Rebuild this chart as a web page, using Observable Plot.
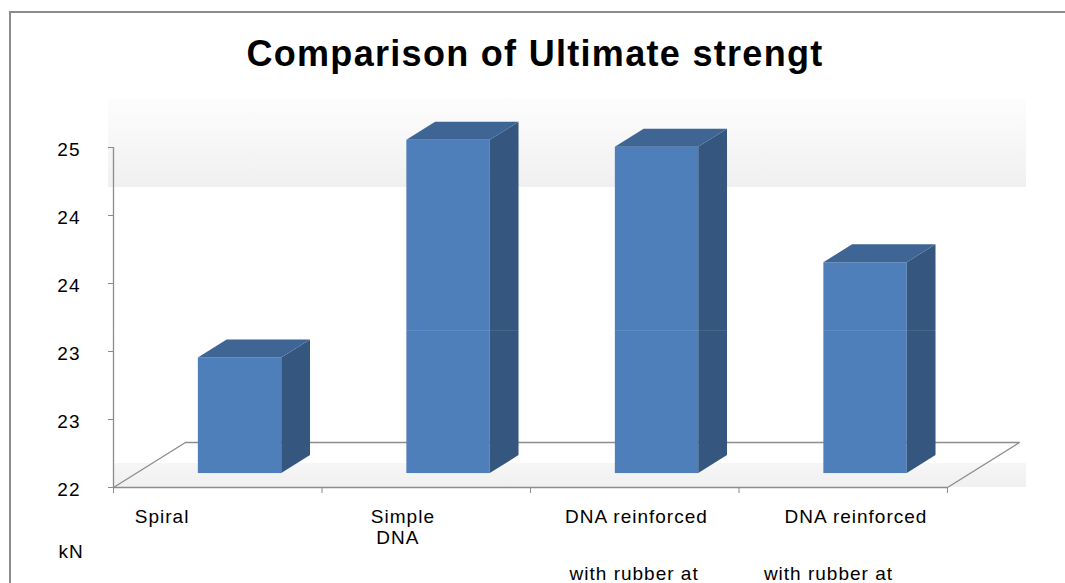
<!DOCTYPE html>
<html>
<head>
<meta charset="utf-8">
<script src="https://cdn.jsdelivr.net/npm/d3@7"></script>
<script src="https://cdn.jsdelivr.net/npm/@observablehq/plot@0.6"></script>
<style>
  body { margin: 0; background: #fff; }
  #wrap { position: relative; width: 1065px; height: 583px; overflow: hidden; font-family: "Liberation Sans", Arial, sans-serif; }
  #frame { position: absolute; left: 9px; top: 11px; width: 1100px; height: 620px; border-left: 2px solid #8c8c8c; border-top: 2px solid #8c8c8c; }
  #bandTop { position: absolute; left: 108px; top: 98px; width: 918px; height: 89px; background: linear-gradient(#fdfdfd, #f0f0f0); }
  #bandBottom { position: absolute; left: 113px; top: 463px; width: 913px; height: 24px; background: linear-gradient(#f6f6f6, #f0f0f0); }
  #title { position: absolute; left: 0; top: 32px; width: 1070px; height: 44px; text-align: center; font-weight: bold; font-size: 36px; line-height: 44px; letter-spacing: 1.3px; color: #000; white-space: nowrap; }
  #chart { position: absolute; left: 0; top: 69px; width: 1065px; height: 514px; }
</style>
</head>
<body>
<div id="wrap">
  <div id="frame"></div>
  <div id="bandTop"></div>
  <div id="bandBottom"></div>
  <div id="title">Comparison of Ultimate strengt</div>
  <div id="chart"></div>
</div>
<script>
// ---- data ----
const labelLine1 = ["Spiral", "Simple", "DNA reinforced", "DNA reinforced"];
const labelLine2 = ["", "DNA", "", ""];
const labelLine3 = ["", "", "with rubber at", "with rubber at"];
const values = [23.02, 24.94, 24.88, 23.86];
const yTicks = [22, 22.6, 23.2, 23.8, 24.4, 25];
const yTickLabels = ["22", "23", "23", "24", "24", "25"];
const unitLabel = "kN";

// ---- 3D look (styling) ----
const DX = 0.345, DY = 0.397;     // full floor depth in data units
const f1 = 0.31, f2 = 0.71;       // bar front/back depth fractions
const half = 0.2;                 // bar half width (band units)
const cFront = "#4f7fbb", cSide = "#34567f", cTop = "#3e6594", cGrid = "#8c8c8c";
const shift1 = [-0.267, -0.112, 0.008, 0.061];
const shift2 = [0, -0.136, 0, 0];
const shift3 = [0, 0, -0.003, -0.071];

const rows = values.map((v, i) => ({i, v}));
const sidePts = rows.flatMap(d => [
  {i: d.i, x: d.i + 0.5 + half + f1 * DX, y1: 22 + f1 * DY, y2: d.v + f1 * DY},
  {i: d.i, x: d.i + 0.5 + half + f2 * DX, y1: 22 + f2 * DY, y2: d.v + f2 * DY}
]);
const topPts = rows.flatMap(d => [
  {i: d.i, y: d.v + f1 * DY, x1: d.i + 0.5 - half + f1 * DX, x2: d.i + 0.5 + half + f1 * DX},
  {i: d.i, y: d.v + f2 * DY, x1: d.i + 0.5 - half + f2 * DX, x2: d.i + 0.5 + half + f2 * DX}
]);
const n = values.length;
const floorPts = [
  {x: 0, y: 22}, {x: DX, y: 22 + DY}, {x: n + DX, y: 22 + DY}, {x: n, y: 22}
];

const chart = Plot.plot({
  width: 1065,
  height: 514,
  marginLeft: 113,
  marginRight: 118,
  marginTop: 78,
  marginBottom: 96,
  style: {background: "transparent", color: cGrid, fontFamily: "Liberation Sans, Arial, sans-serif", fontSize: "19px", letterSpacing: "1px"},
  x: {domain: [0, n], ticks: d3.range(n + 1), tickFormat: () => "", tickSize: 6, label: null},
  y: {domain: [22, 25], ticks: yTicks, tickFormat: () => "", tickSize: 5, label: null},
  marks: [
    Plot.line(floorPts, {x: "x", y: "y", stroke: cGrid, strokeWidth: 1.3}),
    Plot.ruleY([22], {x1: 0, x2: n, stroke: cGrid, strokeWidth: 1.3}),
    Plot.ruleX([0], {y1: 22, y2: 25, stroke: cGrid, strokeWidth: 1.3}),
    Plot.rect(rows, {
      x1: d => d.i + 0.5 - half + f1 * DX,
      x2: d => d.i + 0.5 + half + f1 * DX,
      y1: d => 22 + f1 * DY,
      y2: d => d.v + f1 * DY,
      fill: cFront
    }),
    Plot.areaY(sidePts, {x: "x", y1: "y1", y2: "y2", z: "i", fill: cSide}),
    Plot.areaX(topPts, {y: "y", x1: "x1", x2: "x2", z: "i", fill: cTop}),
    Plot.ruleY([23.385], {x1: 0, x2: n + DX, stroke: "white", strokeOpacity: 0.1}),
    Plot.text(yTicks, {x: 0, y: d => d, text: (d, i) => yTickLabels[i], textAnchor: "end", dx: -33, dy: 2, fill: "#000", fontSize: 19}),
    Plot.text(rows, {x: d => d.i + 0.5 + shift1[d.i], y: () => 22, text: d => labelLine1[d.i], dy: 29, fill: "#000", fontSize: 19}),
    Plot.text(rows, {x: d => d.i + 0.5 + shift2[d.i], y: () => 22, text: d => labelLine2[d.i], dy: 50, fill: "#000", fontSize: 19}),
    Plot.text(rows, {x: d => d.i + 0.5 + shift3[d.i], y: () => 22, text: d => labelLine3[d.i], dy: 86.5, fill: "#000", fontSize: 19}),
    Plot.text([unitLabel], {x: () => 0, y: () => 22, text: d => d, textAnchor: "start", dx: -55, dy: 64, fill: "#000", fontSize: 19})
  ]
});
document.getElementById("chart").appendChild(chart);
</script>
</body>
</html>
